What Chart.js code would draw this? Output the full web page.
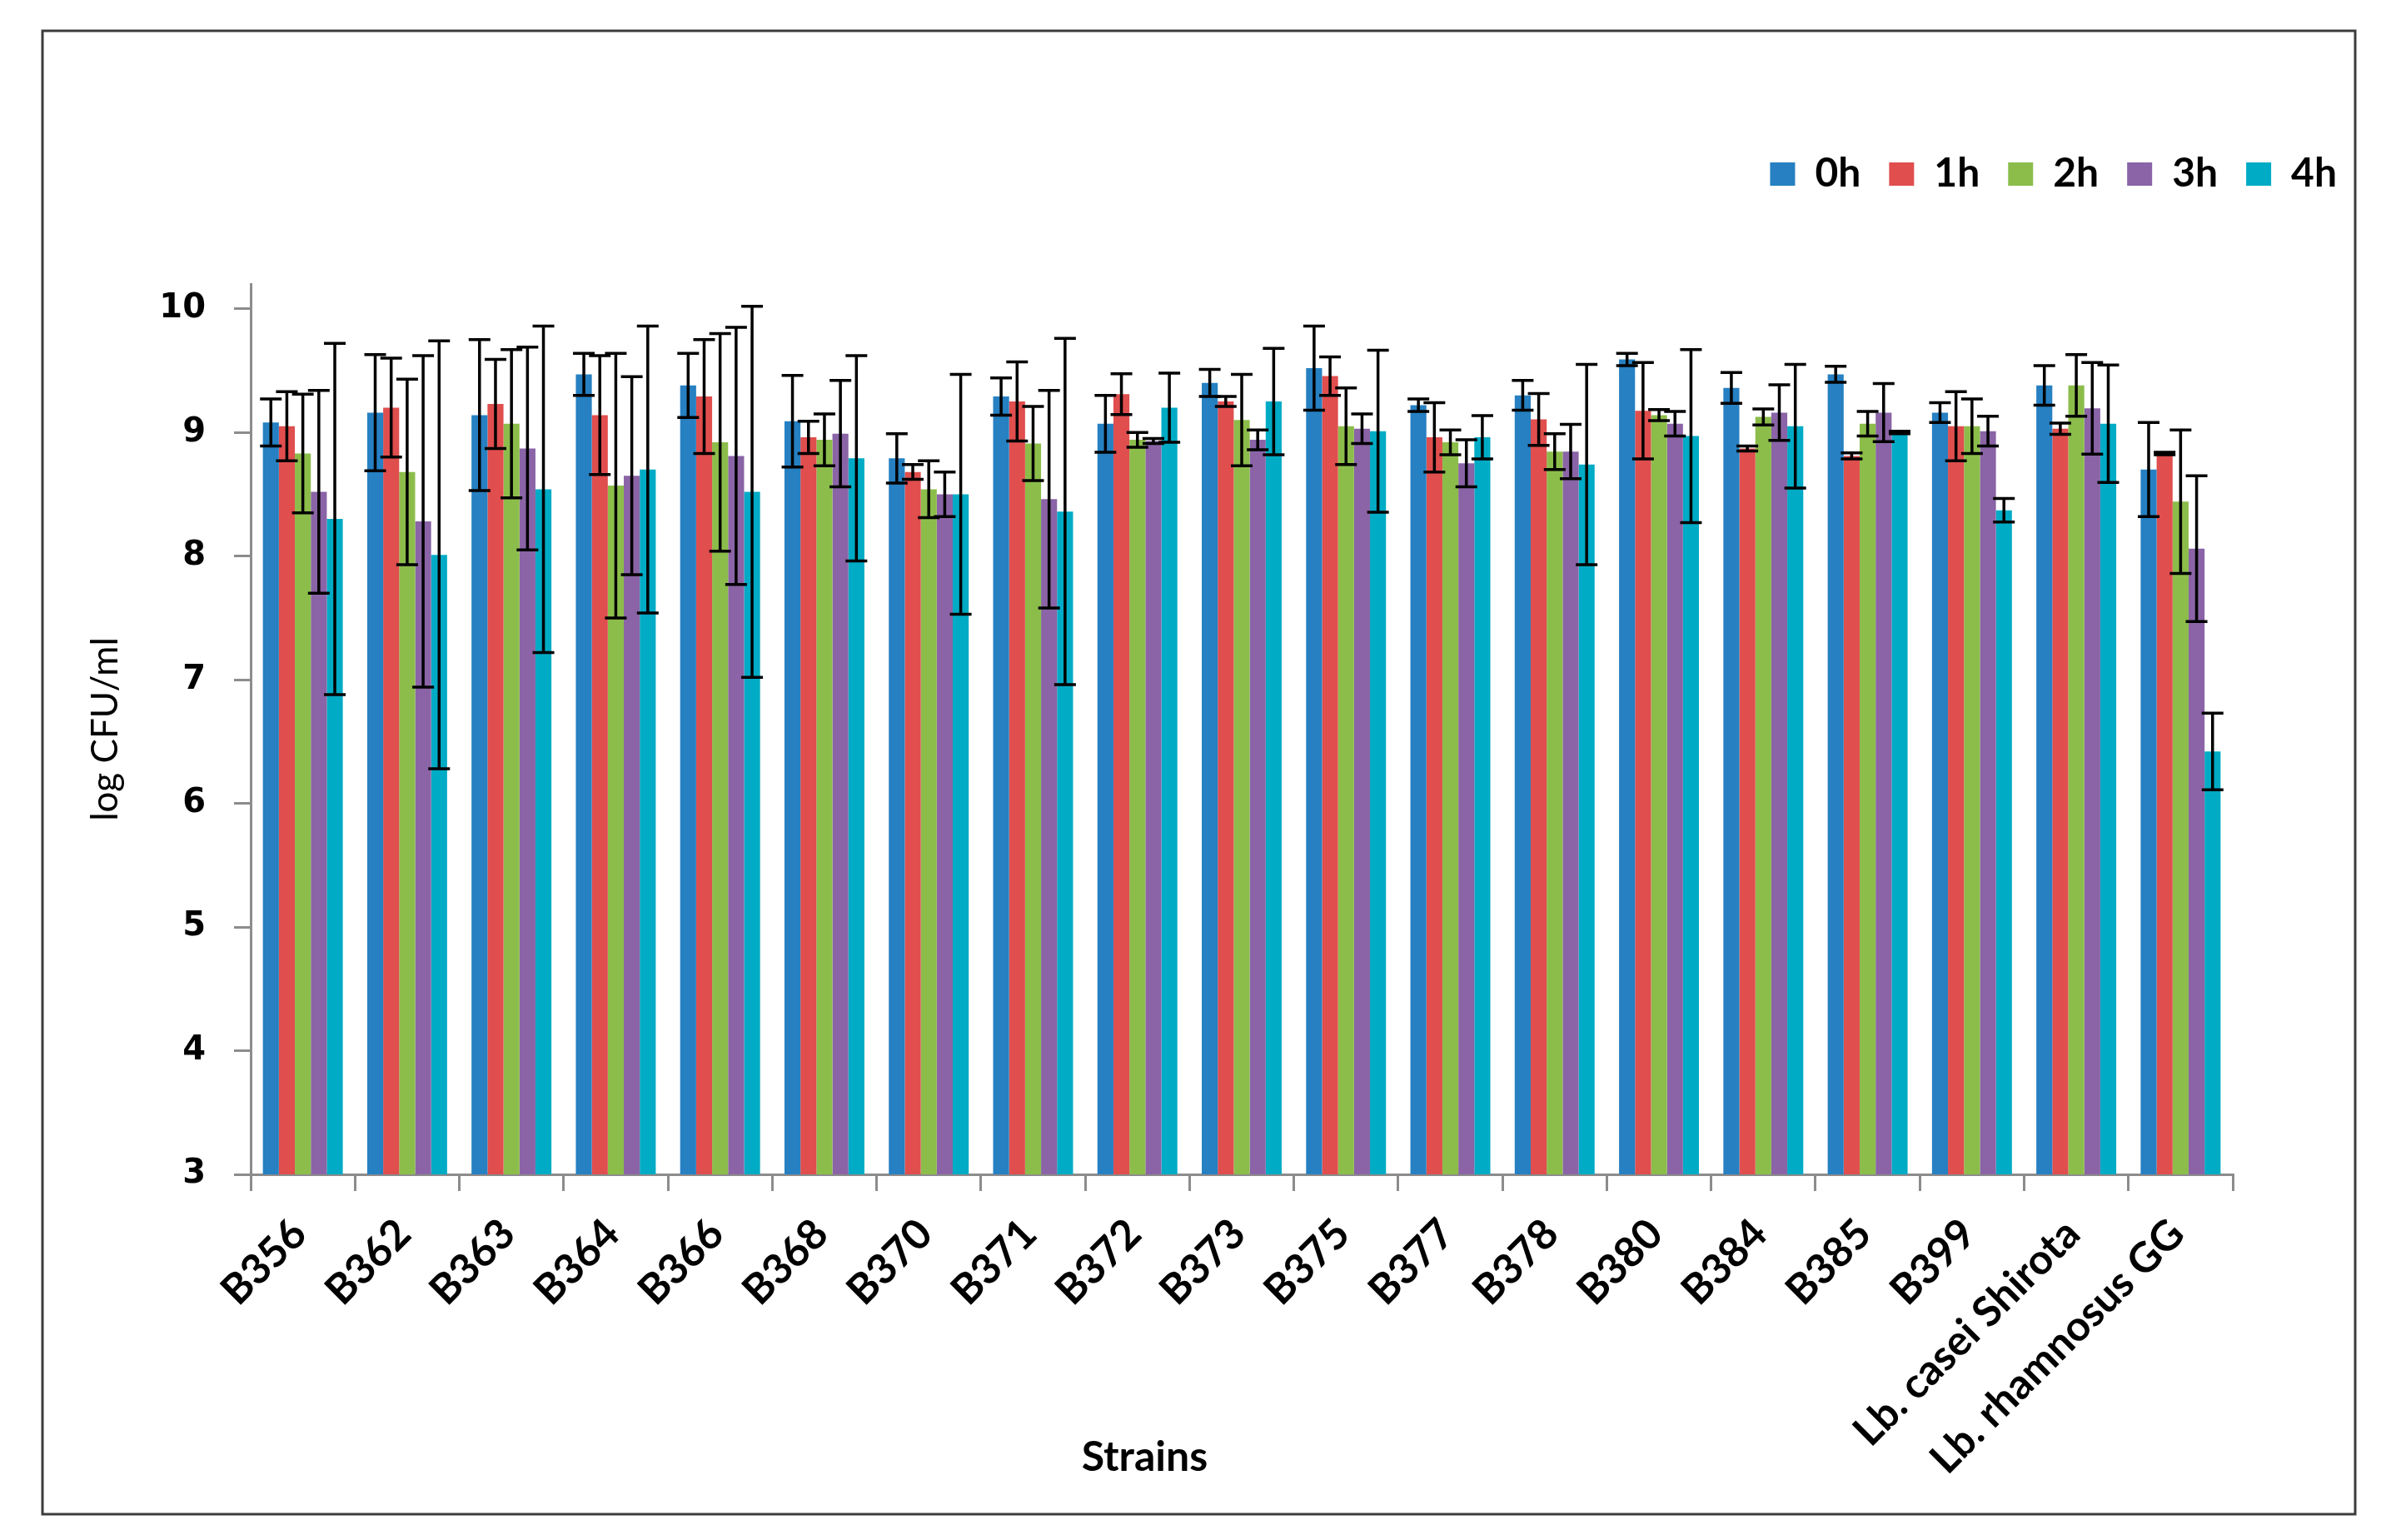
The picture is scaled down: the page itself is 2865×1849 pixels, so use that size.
<!DOCTYPE html>
<html><head><meta charset="utf-8">
<script src="https://cdn.jsdelivr.net/npm/chart.js@4.4.1/dist/chart.umd.min.js"></script>
<style>html,body{margin:0;padding:0;background:#fff;overflow:hidden}#wrap{position:relative;width:2865px;height:1849px}</style>
</head><body><div id="wrap"><canvas id="c"></canvas></div>
<script>
const categories = ['B356','B362','B363','B364','B366','B368','B370','B371','B372','B373','B375','B377','B378','B380','B384','B385','B399','Lb. casei Shirota','Lb. rhamnosus GG'];
const seriesNames = ['0h','1h','2h','3h','4h'];
const seriesColors = ['#2680c2','#e04e4e','#8cbd4b','#8a64a6','#00abc5'];
const v0h = [9.08,9.16,9.14,9.47,9.38,9.09,8.79,9.29,9.07,9.40,9.52,9.22,9.30,9.59,9.36,9.47,9.16,9.38,8.70];
const v1h = [9.05,9.20,9.23,9.14,9.29,8.96,8.68,9.25,9.31,9.25,9.455,8.96,9.105,9.175,8.87,8.81,9.05,9.03,8.83];
const v2h = [8.83,8.68,9.07,8.57,8.92,8.94,8.54,8.91,8.94,9.10,9.05,8.92,8.845,9.14,9.125,9.07,9.05,9.38,8.44];
const v3h = [8.52,8.28,8.87,8.65,8.81,8.99,8.50,8.46,8.93,8.94,9.03,8.75,8.845,9.07,9.16,9.16,9.01,9.195,8.06];
const v4h = [8.30,8.01,8.54,8.70,8.52,8.79,8.50,8.36,9.20,9.25,9.01,8.96,8.74,8.97,9.05,9.00,8.37,9.07,6.42];
const err0h = [0.19,0.47,0.61,0.17,0.26,0.37,0.20,0.15,0.23,0.11,0.34,0.05,0.12,0.05,0.125,0.065,0.08,0.16,0.38];
const err1h = [0.28,0.40,0.36,0.48,0.46,0.13,0.06,0.32,0.165,0.04,0.155,0.28,0.21,0.39,0.02,0.025,0.28,0.045,0.01];
const err2h = [0.48,0.75,0.60,1.07,0.88,0.21,0.23,0.30,0.06,0.37,0.31,0.10,0.145,0.045,0.065,0.10,0.22,0.25,0.58];
const err3h = [0.82,1.34,0.82,0.80,1.04,0.43,0.18,0.88,0.02,0.08,0.12,0.19,0.22,0.10,0.225,0.235,0.12,0.37,0.59];
const err4h = [1.42,1.73,1.32,1.16,1.50,0.83,0.97,1.40,0.28,0.43,0.655,0.175,0.81,0.70,0.50,0.01,0.095,0.475,0.31];
const yTickValues = [3,4,5,6,7,8,9,10];

const seriesValues = [v0h,v1h,v2h,v3h,v4h];
const seriesErrors = [err0h,err1h,err2h,err3h,err4h];

const pageDeco = {
  id:'pageDeco',
  beforeInit(chart){
    const lg = chart.legend;
    if (lg) { const f = lg.fit; lg.fit = function(){ f.call(this); this.height += 98; }; }
  },
  beforeDraw(chart){
    const ctx = chart.ctx; ctx.save(); ctx.fillStyle='#fff'; ctx.fillRect(0,0,chart.width,chart.height); ctx.restore();
  },
  afterDraw(chart){
    const ctx = chart.ctx, a = chart.chartArea;
    ctx.save();
    ctx.strokeStyle='#3c3c3c'; ctx.lineWidth=3;
    ctx.strokeRect(51,37,2777,1781);
    ctx.fillStyle='#000'; ctx.font='bold 50px Lato'; ctx.textAlign='center'; ctx.textBaseline='middle';
    ctx.fillText('Strains', a.left + (a.right-a.left)*0.451, a.bottom + 340);
    ctx.restore();
  }
};

const errorBars = {
  id:'errorBars',
  afterDatasetsDraw(chart){
    const ctx = chart.ctx, ys = chart.scales.y;
    ctx.save(); ctx.strokeStyle='#000'; ctx.lineWidth=3.5; ctx.lineCap='butt';
    chart.data.datasets.forEach((ds,i)=>{
      const meta = chart.getDatasetMeta(i);
      const errs = seriesErrors[i];
      meta.data.forEach((bar,j)=>{
        const v = ds.data[j], e = errs[j];
        const yt = ys.getPixelForValue(v+e), yb = ys.getPixelForValue(v-e);
        const x = bar.x, hw = 13;
        ctx.beginPath();
        ctx.moveTo(x,yt); ctx.lineTo(x,yb);
        ctx.moveTo(x-hw,yt); ctx.lineTo(x+hw,yt);
        ctx.moveTo(x-hw,yb); ctx.lineTo(x+hw,yb);
        ctx.stroke();
      });
    });
    ctx.restore();
  }
};

function build(){
  Chart.defaults.font.family = 'Lato';
  new Chart(document.getElementById('c'), {
    type:'bar',
    data:{
      labels: categories,
      datasets: seriesNames.map((n,i)=>({label:n, data:seriesValues[i], backgroundColor:seriesColors[i], borderWidth:0, categoryPercentage:0.766, barPercentage:1.0}))
    },
    options:{
      responsive:true, maintainAspectRatio:false, animation:false, devicePixelRatio:1,
      layout:{padding:{left:80,right:25,top:151,bottom:0}},
      plugins:{
        tooltip:{enabled:false},
        legend:{position:'top', align:'end', labels:{boxWidth:30, boxHeight:28, padding:34, color:'#000', font:{family:'Lato', size:48, weight:'bold'}}}
      },
      scales:{
        x:{
          offset:true,
          grid:{display:true, drawOnChartArea:false, drawTicks:true, tickLength:20, color:'#8c8c8c', lineWidth:3, offset:true},
          border:{display:true, color:'#8c8c8c', width:3},
          ticks:{autoSkip:false, minRotation:45, maxRotation:45, padding:22, labelOffset:-4, color:'#000', font:{family:'Lato', size:50, weight:'bold'}},
          afterFit(s){ s.height = 439; }
        },
        y:{
          min:3, max:10.2, beginAtZero:false,
          afterBuildTicks(s){ s.ticks = yTickValues.map(v=>({value:v})); },
          grid:{drawOnChartArea:false, drawTicks:true, tickLength:20, color:'#8c8c8c', lineWidth:3},
          border:{display:true, color:'#8c8c8c', width:3},
          ticks:{padding:34, color:'#000', font:{family:'DejaVu Sans', size:40, weight:'bold'}},
          title:{display:true, text:'log CFU/ml', color:'#000', font:{family:'Lato', size:44, weight:'normal'}, padding:{top:20,bottom:0}},
          afterFit(s){ s.width = 221; }
        },
        y2:{
          position:'right', display:true,
          grid:{display:false}, border:{display:false}, ticks:{display:false},
          afterFit(s){ s.width = 159; }
        }
      }
    },
    plugins:[pageDeco, errorBars]
  });
}
const fontLoads = ['bold 48px Lato','44px Lato','bold 40px "DejaVu Sans"'].map(f=>document.fonts.load(f).catch(()=>null));
Promise.all(fontLoads).then(build, build);
</script>
</body></html>
